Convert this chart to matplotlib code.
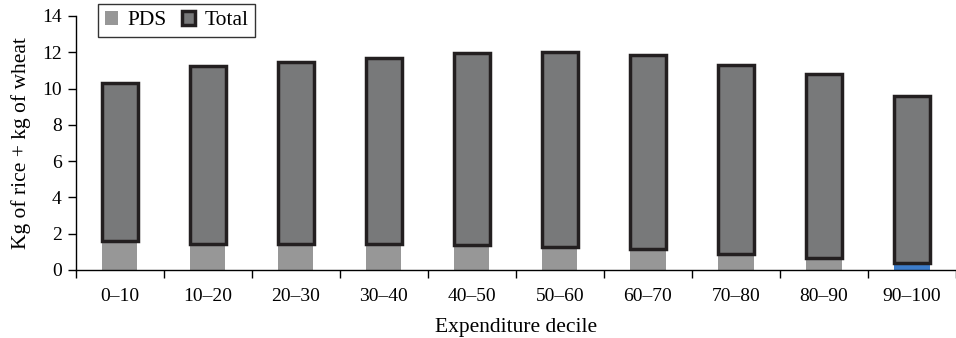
import numpy as np
import matplotlib.pyplot as plt
from matplotlib.patches import Patch

plt.rcParams["font.family"] = ["Liberation Serif", "DejaVu Serif"]

deciles = ["0\u201310", "10\u201320", "20\u201330", "30\u201340", "40\u201350",
           "50\u201360", "60\u201370", "70\u201380", "80\u201390", "90\u2013100"]
pds = [1.6, 1.43, 1.43, 1.43, 1.38, 1.28, 1.16, 0.88, 0.66, 0.36]
total = [10.29, 11.27, 11.49, 11.71, 11.95, 12.04, 11.85, 11.3, 10.8, 9.61]

pds_colors = ["#979797"] * 9 + ["#3d7cc9"]

fig = plt.figure(figsize=(9.56, 3.38), dpi=100)
ax = fig.add_axes([0.0792, 0.2012, 0.9208, 0.7515])

x = np.arange(len(deciles))
ax.bar(x, pds, width=0.40, color=pds_colors, linewidth=0, zorder=2)
ax.bar(x, np.array(total) - np.array(pds), bottom=pds, width=0.405,
       color="#78797a", edgecolor="#231f20", linewidth=2.5, zorder=3)

ax.set_xlim(-0.5, 9.435)
ax.set_ylim(0, 14)
ax.set_yticks(range(0, 15, 2))
ax.set_xticks(x)
ax.set_xticklabels(deciles)
ax.set_xticks(np.arange(-0.5, 10, 1), minor=True)
ax.tick_params(axis="x", which="major", length=0, pad=13, labelsize=14)
ax.tick_params(axis="x", which="minor", length=6, width=1)
ax.tick_params(axis="y", length=6, width=1, labelsize=14, pad=4)

for side in ["top", "right"]:
    ax.spines[side].set_visible(False)
for side in ["left", "bottom"]:
    ax.spines[side].set_linewidth(1)

ax.set_xlabel("Expenditure decile", fontsize=15.5, labelpad=9)
ax.set_ylabel("Kg of rice + kg of wheat", fontsize=15.5, labelpad=8)

handles = [Patch(facecolor="#979797", edgecolor="none"),
           Patch(facecolor="#78797a", edgecolor="#231f20", linewidth=2.5)]
fig.legend(handles, ["PDS", "Total"], loc="upper left",
           bbox_to_anchor=(0.103, 0.987), ncol=2, fontsize=15.5,
           frameon=True, fancybox=False, edgecolor="black",
           handlelength=0.6, handleheight=0.6, handletextpad=0.45,
           columnspacing=0.7, borderpad=0.3, borderaxespad=0)

fig.savefig("out.png", dpi=100)
